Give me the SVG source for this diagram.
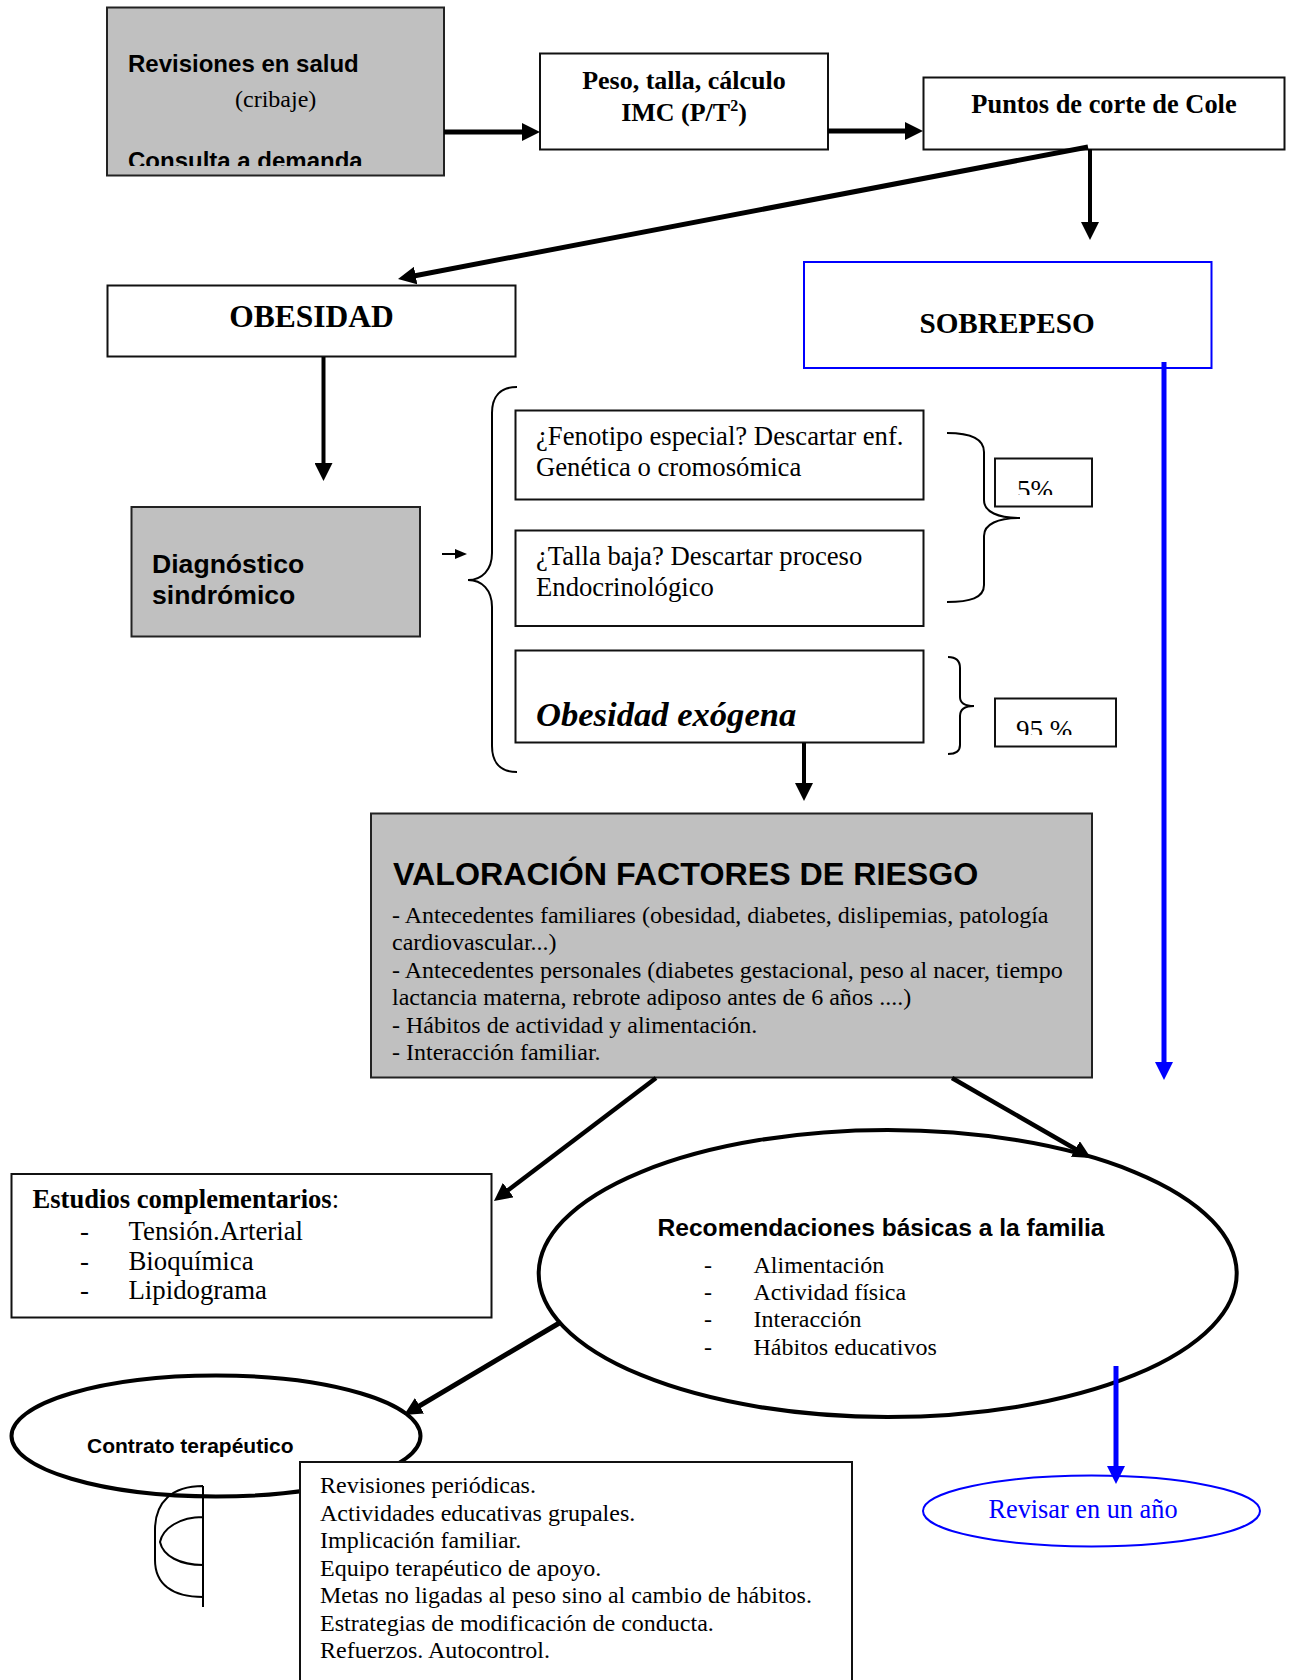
<svg xmlns="http://www.w3.org/2000/svg" width="1290" height="1680" viewBox="0 0 1290 1680">
<style>
.box{fill:#fff;stroke:#111;stroke-width:2}
.gray{fill:#c0c0c0;stroke:#222;stroke-width:2}
.blue{fill:#fff;stroke:#0000ff;stroke-width:2}
.ell{fill:#fff;stroke:#000;stroke-width:4}
.ser{font-family:"Liberation Serif","Times New Roman",serif;fill:#000}
.san{font-family:"Liberation Sans",Arial,sans-serif;font-weight:bold;fill:#000}
.b{font-weight:bold}
.brace{fill:none;stroke:#000;stroke-width:2}
.con{fill:none;stroke:#000;stroke-linecap:butt}
.bcon{fill:none;stroke:#0000ff;stroke-width:5}
</style>
<defs>
<marker id="ah" markerUnits="userSpaceOnUse" markerWidth="18" markerHeight="18" refX="2" refY="9" orient="auto" viewBox="0 0 18 18"><path d="M0,0 L18,9 L0,18 z" fill="#000"/></marker>
<marker id="ahb" markerUnits="userSpaceOnUse" markerWidth="18" markerHeight="18" refX="2" refY="9" orient="auto" viewBox="0 0 18 18"><path d="M0,0 L18,9 L0,18 z" fill="#0000ff"/></marker>
<marker id="ahs" markerUnits="userSpaceOnUse" markerWidth="12" markerHeight="10" refX="0" refY="5" orient="auto" viewBox="0 0 12 10"><path d="M0,0 L12,5 L0,10 z" fill="#000"/></marker>
<clipPath id="c1"><rect x="107" y="7" width="337" height="159"/></clipPath>
<clipPath id="c5"><rect x="995" y="458" width="97" height="37"/></clipPath>
<clipPath id="c95"><rect x="995" y="698" width="121" height="37"/></clipPath>
</defs>

<g id="revisiones">
<rect class="gray" x="107" y="7.5" width="337" height="168"/>
<g clip-path="url(#c1)">
<text class="san" x="128" y="72" font-size="24">Revisiones en salud</text>
<text class="ser" x="235" y="107" font-size="24">(cribaje)</text>
<text class="san" x="128" y="169" font-size="24">Consulta a demanda</text>
</g>
</g>

<g id="peso">
<rect class="box" x="540" y="53.5" width="288" height="96"/>
<text class="ser b" x="684" y="89" font-size="26" text-anchor="middle">Peso, talla, cálculo</text>
<text class="ser b" x="684" y="121" font-size="26" text-anchor="middle">IMC (P/T<tspan font-size="16" dy="-10">2</tspan><tspan dy="10">)</tspan></text>
</g>

<g id="cole">
<rect class="box" x="923.5" y="77.5" width="361" height="72"/>
<text class="ser b" x="1104" y="113" font-size="26.4" text-anchor="middle">Puntos de corte de Cole</text>
</g>

<g id="obesidad">
<rect class="box" x="107.5" y="285.5" width="408" height="71"/>
<text class="ser b" x="311.5" y="327" font-size="31.5" text-anchor="middle">OBESIDAD</text>
</g>

<g id="sobrepeso">
<rect class="blue" x="804" y="262" width="407.5" height="106"/>
<text class="ser b" x="1007" y="333" font-size="29.2" text-anchor="middle">SOBREPESO</text>
</g>

<g id="diagnostico">
<rect class="gray" x="131.5" y="507" width="288.5" height="129.5"/>
<text class="san" x="152" y="573" font-size="26.6">Diagnóstico</text>
<text class="san" x="152" y="604" font-size="26.6">sindrómico</text>
</g>

<g id="llave">
<path class="brace" d="M517,387 C500,387 492,397 492,413 L492,553 C492,570 482,580 468,580 C482,580 492,590 492,607 L492,746 C492,762 500,772 517,772"/>
</g>

<g id="fenotipo">
<rect class="box" x="515.5" y="410.5" width="408" height="89"/>
<text class="ser" x="536" y="445" font-size="26.7">¿Fenotipo especial? Descartar enf.</text>
<text class="ser" x="536" y="476" font-size="26.7">Genética o cromosómica</text>
</g>

<g id="talla">
<rect class="box" x="515.5" y="530.5" width="408" height="95.5"/>
<text class="ser" x="536" y="565" font-size="26.7">¿Talla baja? Descartar proceso</text>
<text class="ser" x="536" y="596" font-size="26.7">Endocrinológico</text>
</g>

<g id="exogena">
<rect class="box" x="515.5" y="650.5" width="408" height="92"/>
<text class="ser b" x="536" y="726" font-size="34.6" font-style="italic">Obesidad exógena</text>
</g>

<g id="llave5">
<path class="brace" d="M947,433 C970,433 984,438 984,452 L984,500 C984,512 998,518 1020,518 C998,518 984,524 984,536 L984,585 C984,598 970,602 947,602"/>
</g>

<g id="p5">
<rect class="box" x="995" y="458.5" width="97" height="48"/>
<text class="ser" x="1017" y="499" font-size="27" clip-path="url(#c5)">5%</text>
</g>

<g id="llave95">
<path class="brace" d="M948,657 C956,657 960,661 960,668 L960,697 C960,703 965,706 974,706 C965,706 960,709 960,716 L960,745 C960,751 956,754 948,754"/>
</g>

<g id="p95">
<rect class="box" x="995" y="698.5" width="121" height="48"/>
<text class="ser" x="1016" y="739" font-size="27" clip-path="url(#c95)">95 %</text>
</g>

<g id="valoracion">
<rect class="gray" x="371" y="813.5" width="721" height="264"/>
<text class="san" x="393" y="885" font-size="32.2">VALORACIÓN FACTORES DE RIESGO</text>
<text class="ser" font-size="24">
<tspan x="392" y="923">- Antecedentes familiares (obesidad, diabetes, dislipemias, patología</tspan>
<tspan x="392" y="950.4">cardiovascular...)</tspan>
<tspan x="392" y="977.8">- Antecedentes personales (diabetes gestacional, peso al nacer, tiempo</tspan>
<tspan x="392" y="1005.2">lactancia materna, rebrote adiposo antes de 6 años ....)</tspan>
<tspan x="392" y="1032.6">- Hábitos de actividad y alimentación.</tspan>
<tspan x="392" y="1060">- Interacción familiar.</tspan>
</text>
</g>

<g id="estudios">
<rect class="box" x="11.5" y="1174" width="480" height="143.5"/>
<text class="ser" x="32.5" y="1208" font-size="26.6"><tspan font-weight="bold">Estudios complementarios</tspan>:</text>
<text class="ser" font-size="26.8">
<tspan x="80" y="1240">-</tspan><tspan x="128.5" y="1240">Tensión.Arterial</tspan>
<tspan x="80" y="1269.5">-</tspan><tspan x="128.5" y="1269.5">Bioquímica</tspan>
<tspan x="80" y="1299">-</tspan><tspan x="128.5" y="1299">Lipidograma</tspan>
</text>
</g>

<g id="recomendaciones">
<ellipse class="ell" cx="887.7" cy="1273.5" rx="349" ry="143.5"/>
<text class="san" x="657.5" y="1236" font-size="24.6">Recomendaciones básicas a la familia</text>
<text class="ser" font-size="24">
<tspan x="704" y="1273">-</tspan><tspan x="753.5" y="1273">Alimentación</tspan>
<tspan x="704" y="1300">-</tspan><tspan x="753.5" y="1300">Actividad física</tspan>
<tspan x="704" y="1327">-</tspan><tspan x="753.5" y="1327">Interacción</tspan>
<tspan x="704" y="1355">-</tspan><tspan x="753.5" y="1355">Hábitos educativos</tspan>
</text>
</g>

<g id="contrato">
<ellipse class="ell" cx="216" cy="1436" rx="204.5" ry="60.5"/>
<text class="san" x="87" y="1453" font-size="21">Contrato terapéutico</text>
</g>

<g id="corchete">
<path class="brace" d="M203,1486 L203,1607 M203,1486 C172,1486 155,1502 155,1530 L155,1560 C155,1584 172,1597 203,1597 M203,1517 C180,1517 163,1528 160,1542 C163,1556 180,1565 203,1565"/>
</g>

<g id="medidas">
<rect class="box" x="300" y="1462" width="552" height="240"/>
<text class="ser" font-size="24">
<tspan x="320" y="1493">Revisiones periódicas.</tspan>
<tspan x="320" y="1520.5">Actividades educativas grupales.</tspan>
<tspan x="320" y="1548">Implicación familiar.</tspan>
<tspan x="320" y="1575.5">Equipo terapéutico de apoyo.</tspan>
<tspan x="320" y="1603">Metas no ligadas al peso sino al cambio de hábitos.</tspan>
<tspan x="320" y="1630.5">Estrategias de modificación de conducta.</tspan>
<tspan x="320" y="1658">Refuerzos. Autocontrol.</tspan>
</text>
</g>

<g id="revisar">
<ellipse cx="1091.5" cy="1511" rx="168.5" ry="35.5" fill="#fff" stroke="#0000ff" stroke-width="2"/>
<text class="ser" x="1083" y="1518" font-size="26.3" text-anchor="middle" style="fill:#0000ff">Revisar en un año</text>
</g>

<g id="connectors">
<line class="con" x1="444" y1="132" x2="524" y2="132" stroke-width="5" marker-end="url(#ah)"/>
<line class="con" x1="828" y1="131" x2="907" y2="131" stroke-width="5" marker-end="url(#ah)"/>
<line class="con" x1="1090" y1="149" x2="1090" y2="224" stroke-width="4" marker-end="url(#ah)"/>
<line class="con" x1="1088" y1="147" x2="413.7" y2="276" stroke-width="5" marker-end="url(#ah)"/>
<line class="con" x1="323.5" y1="357" x2="323.5" y2="465" stroke-width="4" marker-end="url(#ah)"/>
<line class="con" x1="442" y1="554" x2="455" y2="554" stroke-width="2" marker-end="url(#ahs)"/>
<line class="con" x1="804" y1="743" x2="804" y2="785" stroke-width="4" marker-end="url(#ah)"/>
<line class="con" x1="656" y1="1078" x2="506.7" y2="1191.3" stroke-width="4.5" marker-end="url(#ah)"/>
<line class="con" x1="952" y1="1078" x2="1077.1" y2="1150" stroke-width="4.5" marker-end="url(#ah)"/>
<line class="con" x1="561" y1="1322" x2="417.8" y2="1406.8" stroke-width="5" marker-end="url(#ah)"/>
<line class="bcon" x1="1164" y1="362" x2="1164" y2="1064" marker-end="url(#ahb)"/>
<line class="bcon" x1="1116" y1="1366" x2="1116" y2="1468" marker-end="url(#ahb)"/>
</g>
</svg>
